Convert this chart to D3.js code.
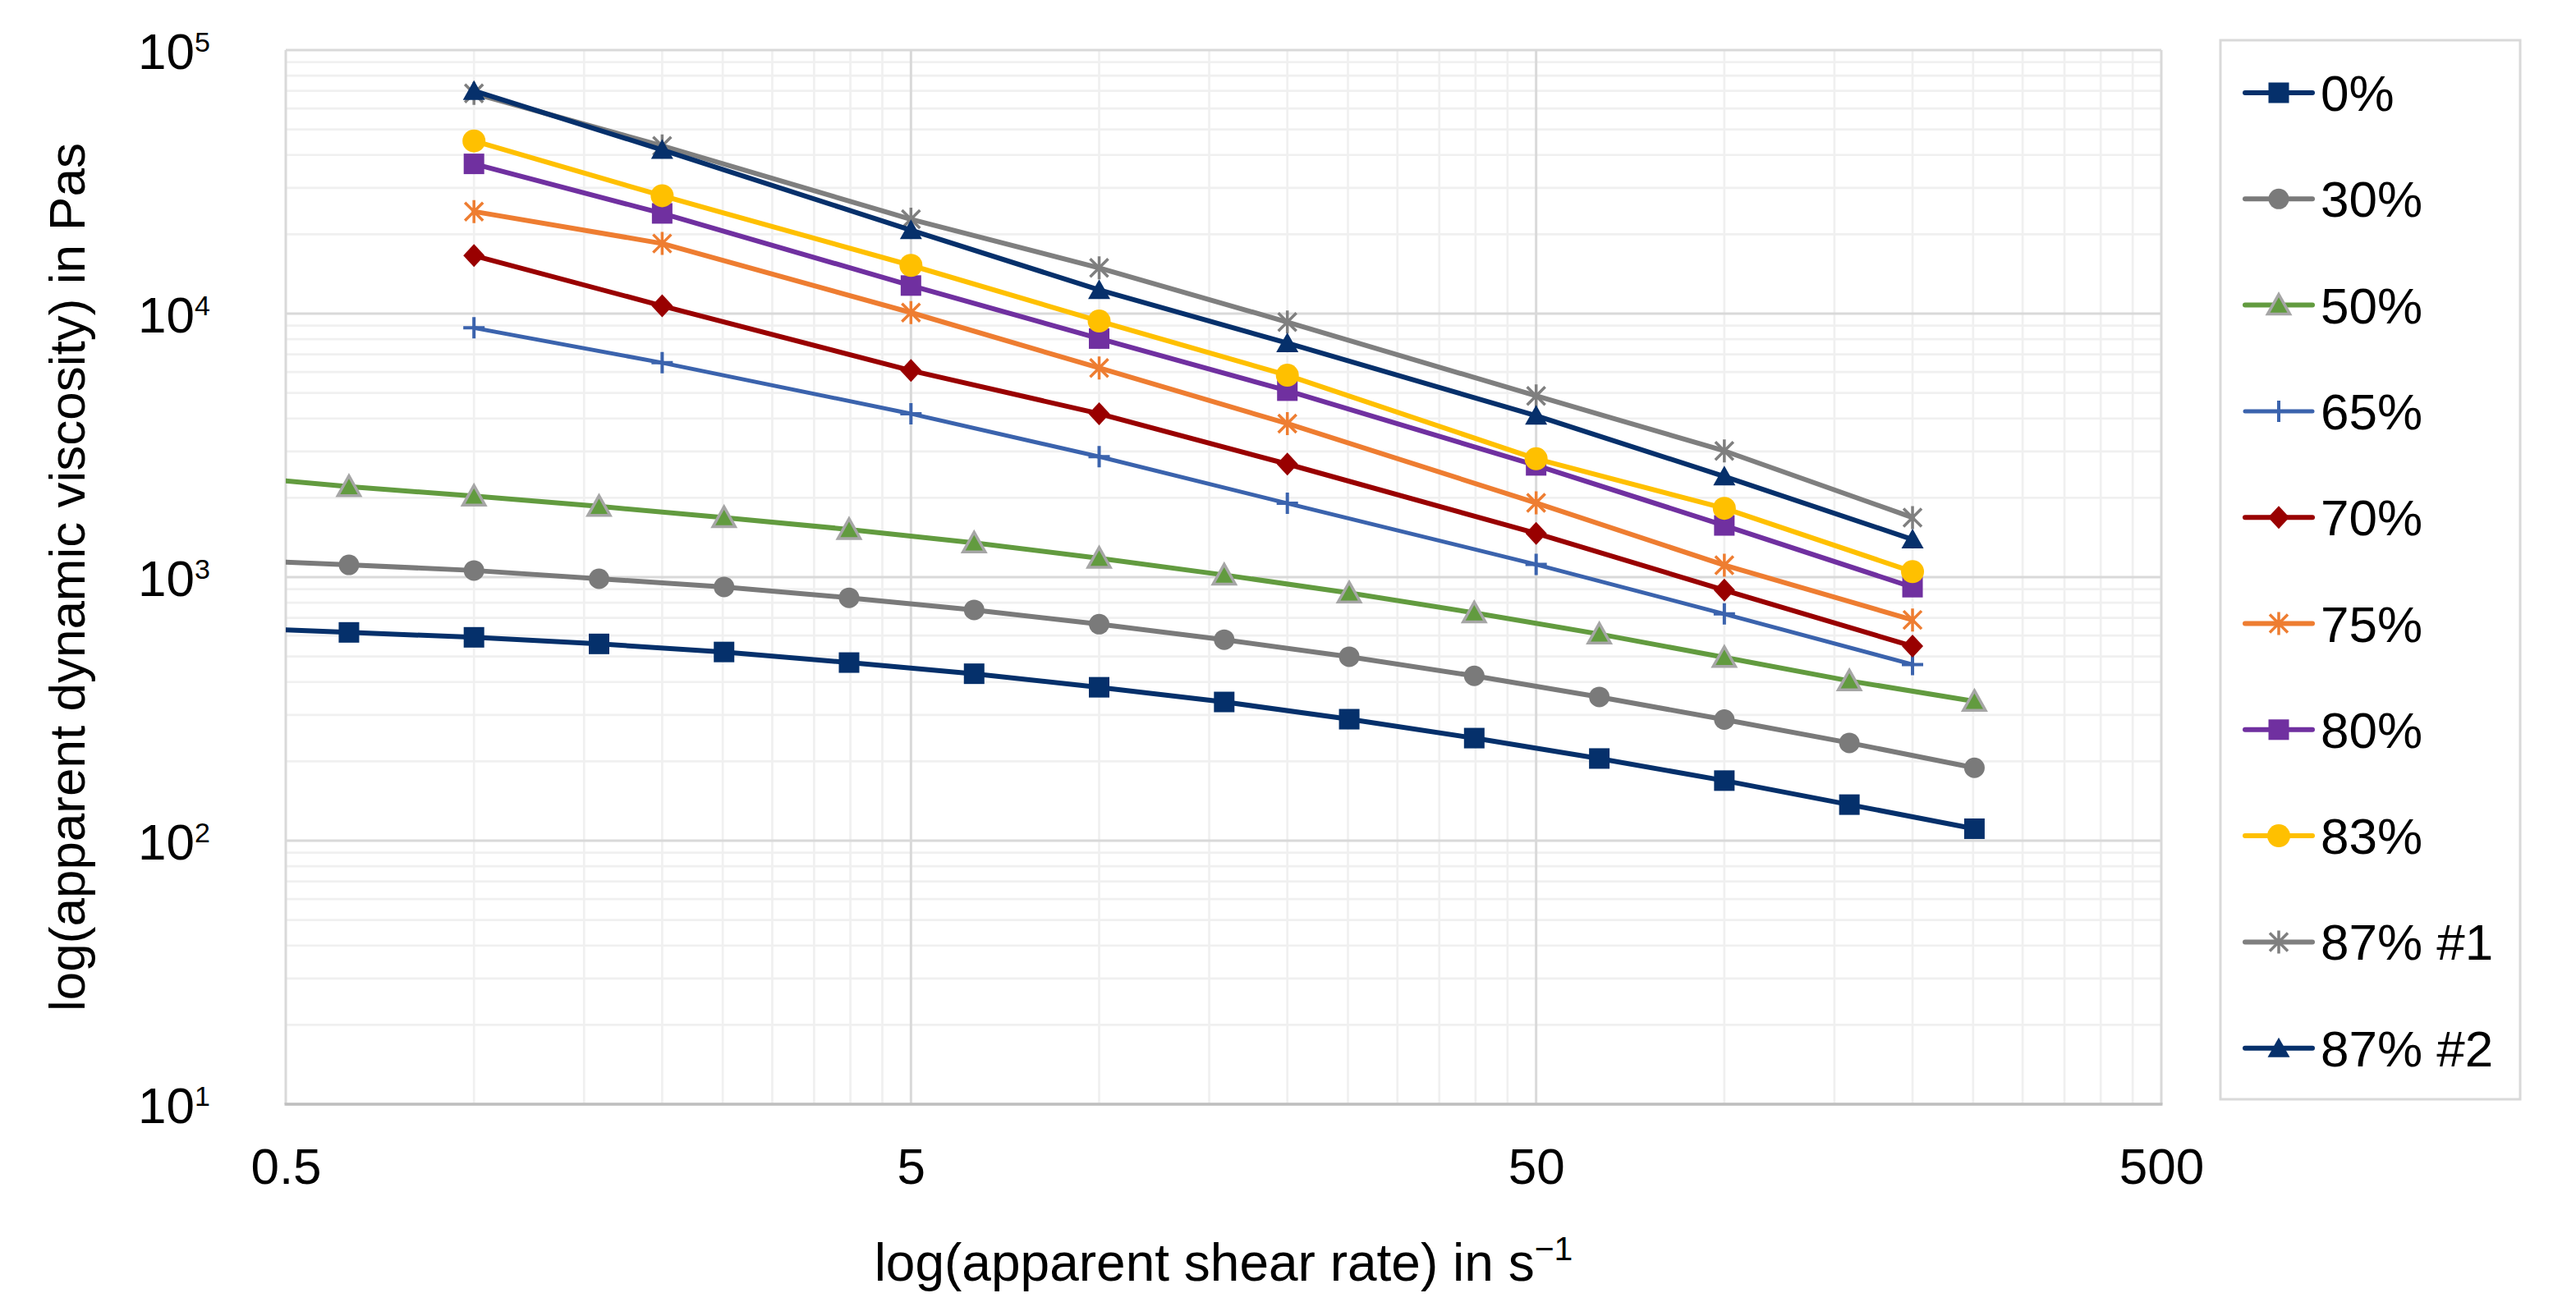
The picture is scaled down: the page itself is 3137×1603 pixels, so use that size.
<!DOCTYPE html>
<html><head><meta charset="utf-8">
<script src="https://cdn.jsdelivr.net/npm/d3@7"></script>
<style>html,body{margin:0;padding:0;background:#fff;} svg{display:block;}</style>
</head><body>
<svg id="c" width="3137" height="1603"></svg>
<script>
// ---------- data ----------
const shearLow  = [0.398, 0.631, 1, 1.585, 2.512, 3.981, 6.31, 10, 15.85, 25.12, 39.81, 63.1, 100, 158.5, 251.2];
const shearHigh = [1, 2, 5, 10, 20, 50, 100, 200];

const seriesNames = ["0%", "30%", "50%", "65%", "70%", "75%", "80%", "83%", "87% #1", "87% #2"];

const visc0   = [645, 617, 591, 558, 520, 474, 430, 382, 336, 289, 245, 205, 169, 137, 111];
const visc30  = [1165, 1113, 1060, 986, 918, 835, 751, 663, 579, 499, 422, 351, 288, 235, 189];
const visc50  = [2430, 2207, 2029, 1855, 1683, 1517, 1349, 1180, 1019, 871, 732, 608, 496, 404, 338];
const visc65  = [8830, 6510, 4170, 2865, 1906, 1117, 725, 466];
const visc70  = [16600, 10700, 6080, 4170, 2686, 1466, 893, 547];
const visc75  = [24400, 18450, 10090, 6220, 3825, 1913, 1110, 688];
const visc80  = [37000, 24000, 12780, 8040, 5100, 2655, 1571, 916];
const visc83  = [45200, 28000, 15240, 9370, 5835, 2812, 1824, 1049];
const visc87a = [68500, 43300, 22800, 14910, 9290, 4875, 3013, 1683];
const visc87b = [70000, 41800, 20730, 12300, 7730, 4100, 2410, 1390];

const seriesX = [shearLow, shearLow, shearLow, shearHigh, shearHigh, shearHigh, shearHigh, shearHigh, shearHigh, shearHigh];
const seriesY = [visc0, visc30, visc50, visc65, visc70, visc75, visc80, visc83, visc87a, visc87b];

const xTickValues = [0.5, 5, 50, 500];
const xTickLabels = ["0.5", "5", "50", "500"];
const yTickExponents = [1, 2, 3, 4, 5];

const xTitle = "log(apparent shear rate) in s";
const xTitleSup = "\u22121";
const yTitle = "log(apparent dynamic viscosity) in Pas";

// ---------- styles ----------
const styles = [
  {color: "#05306b", marker: "square",   fill: "#05306b", stroke: null,      lw: 6},
  {color: "#7a7a7a", marker: "circle",   fill: "#7a7a7a", stroke: null,      lw: 6},
  {color: "#629b3f", marker: "triangle", fill: "#629b3f", stroke: "#a6a6a6", lw: 6},
  {color: "#3b63ad", marker: "plus",     fill: "none",    stroke: "#3b63ad", lw: 5},
  {color: "#990000", marker: "diamond",  fill: "#990000", stroke: null,      lw: 6},
  {color: "#ee7d31", marker: "star",     fill: "none",    stroke: "#ee7d31", lw: 6},
  {color: "#7030a0", marker: "square",   fill: "#7030a0", stroke: null,      lw: 6},
  {color: "#ffc000", marker: "circleL",  fill: "#ffc000", stroke: null,      lw: 6},
  {color: "#7f7f7f", marker: "star",     fill: "none",    stroke: "#7f7f7f", lw: 6},
  {color: "#06306b", marker: "triangle", fill: "#06306b", stroke: null,      lw: 6}
];
const FONT = "'Liberation Sans', Arial, sans-serif";
const FS = 62;

const svg = d3.select("#c");
const PL = 348, PR = 2632, PT = 61, PB = 1345;
const x = d3.scaleLog().domain([0.5, 500]).range([PL, PR]);
const y = d3.scaleLog().domain([10, 1e5]).range([PB, PT]);

// ---------- gridlines ----------
const grid = svg.append("g");
const minorX = [], minorY = [];
[0.5, 5, 50].forEach(d => { for (let k = 2; k <= 9; k++) minorX.push(d * k); });
[10, 100, 1000, 10000].forEach(d => { for (let k = 2; k <= 9; k++) minorY.push(d * k); });
const majorY = yTickExponents.map(e => Math.pow(10, e));

grid.selectAll(".mx").data(minorX).join("line")
  .attr("x1", d => x(d)).attr("x2", d => x(d)).attr("y1", PT).attr("y2", PB)
  .attr("stroke", "#f0f0f0").attr("stroke-width", 2.7);
grid.selectAll(".my").data(minorY).join("line")
  .attr("y1", d => y(d)).attr("y2", d => y(d)).attr("x1", PL).attr("x2", PR)
  .attr("stroke", "#f0f0f0").attr("stroke-width", 2.7);
grid.selectAll(".Mx").data(xTickValues).join("line")
  .attr("x1", d => x(d)).attr("x2", d => x(d)).attr("y1", PT).attr("y2", PB)
  .attr("stroke", "#d9d9d9").attr("stroke-width", 3);
grid.selectAll(".My").data(majorY).join("line")
  .attr("y1", d => y(d)).attr("y2", d => y(d)).attr("x1", PL).attr("x2", PR)
  .attr("stroke", "#d9d9d9").attr("stroke-width", 3);
// bottom axis line
svg.append("line").attr("x1", PL - 1.5).attr("x2", PR + 1.5).attr("y1", PB).attr("y2", PB)
  .attr("stroke", "#bfbfbf").attr("stroke-width", 3.5);

// ---------- axes ----------
const xAxis = svg.append("g").attr("transform", `translate(0,${PB})`)
  .call(d3.axisBottom(x).tickValues(xTickValues).tickSize(0).tickPadding(53)
        .tickFormat((d, i) => xTickLabels[i]));
xAxis.select(".domain").remove();
xAxis.selectAll("text").attr("font-family", FONT).attr("font-size", FS).attr("fill", "#000");

const yAxis = svg.append("g").attr("transform", `translate(${PL},0)`)
  .call(d3.axisLeft(y).tickValues(majorY).tickSize(0).tickPadding(92).tickFormat(() => ""));
yAxis.select(".domain").remove();
yAxis.selectAll("text").attr("font-family", FONT).attr("font-size", FS).attr("fill", "#000")
  .attr("dy", null)
  .each(function(d) {
    const t = d3.select(this);
    t.text(null);
    t.append("tspan").attr("dy", 22).text("10");
    t.append("tspan").attr("dy", -21).attr("font-size", 34).text(String(Math.round(Math.log10(d))));
  });

// titles
const xt = svg.append("text").attr("x", (PL + PR) / 2).attr("y", 1560)
  .attr("text-anchor", "middle").attr("font-family", FONT).attr("font-size", 64).attr("fill", "#000");
xt.append("tspan").text(xTitle);
xt.append("tspan").attr("dy", -25).attr("font-size", 41).text(xTitleSup);

svg.append("text").attr("transform", `translate(103,${(PT + PB) / 2}) rotate(-90)`)
  .attr("text-anchor", "middle").attr("font-family", FONT).attr("font-size", FS).attr("fill", "#000")
  .text(yTitle);

// ---------- markers ----------
function markerPath(type) {
  switch (type) {
    case "square": return "M-12.5,-12.5H12.5V12.5H-12.5Z";
    case "circle": { const r = 12.5; return `M${r},0A${r},${r} 0 1 1 ${-r},0A${r},${r} 0 1 1 ${r},0Z`; }
    case "circleL": { const r = 14; return `M${r},0A${r},${r} 0 1 1 ${-r},0A${r},${r} 0 1 1 ${r},0Z`; }
    case "triangle": return "M0,-13L13.5,11L-13.5,11Z";
    case "diamond": return "M0,-14L13,0L0,14L-13,0Z";
    case "plus": return "M-13,0H13M0,-13V13";
    case "star": return "M-11,-11L11,11M-11,11L11,-11M0,-14V14";
  }
}
function drawMarker(g, st) {
  const p = g.append("path").attr("d", markerPath(st.marker));
  if (st.marker === "plus" || st.marker === "star") {
    p.attr("fill", "none").attr("stroke", st.stroke).attr("stroke-width", st.marker === "plus" ? 4 : 3.5);
  } else {
    p.attr("fill", st.fill);
    if (st.stroke) p.attr("stroke", st.stroke).attr("stroke-width", 3.5).attr("stroke-linejoin", "miter");
  }
}

// ---------- series ----------
svg.append("defs").append("clipPath").attr("id", "plotclip")
  .append("rect").attr("x", PL).attr("y", PT - 20).attr("width", PR - PL).attr("height", PB - PT + 20);
const plot = svg.append("g").attr("clip-path", "url(#plotclip)");
const line = d3.line().x(d => x(d[0])).y(d => y(d[1]));

seriesNames.forEach((name, i) => {
  const st = styles[i];
  const pts = seriesX[i].map((xv, j) => [xv, seriesY[i][j]]);
  const g = plot.append("g");
  g.append("path").attr("d", line(pts)).attr("fill", "none").attr("stroke", st.color)
    .attr("stroke-width", st.lw).attr("stroke-linejoin", "round").attr("stroke-linecap", "round");
  pts.forEach(p => {
    const mg = g.append("g").attr("transform", `translate(${x(p[0])},${y(p[1])})`);
    drawMarker(mg, st);
  });
});

// ---------- legend ----------
const lg = svg.append("g");
lg.append("rect").attr("x", 2704).attr("y", 49).attr("width", 365).attr("height", 1290)
  .attr("fill", "#fff").attr("stroke", "#d9d9d9").attr("stroke-width", 3);
seriesNames.forEach((name, i) => {
  const st = styles[i];
  const cy = 113 + i * 129.3;
  const row = lg.append("g").attr("transform", `translate(0,${cy})`);
  row.append("line").attr("x1", 2734).attr("x2", 2816).attr("y1", 0).attr("y2", 0)
    .attr("stroke", st.color).attr("stroke-width", st.lw).attr("stroke-linecap", "round");
  drawMarker(row.append("g").attr("transform", "translate(2775,0)"), st);
  row.append("text").attr("x", 2826).attr("y", 22).attr("font-family", FONT).attr("font-size", FS)
    .attr("fill", "#000").text(name);
});
</script>
</body></html>
